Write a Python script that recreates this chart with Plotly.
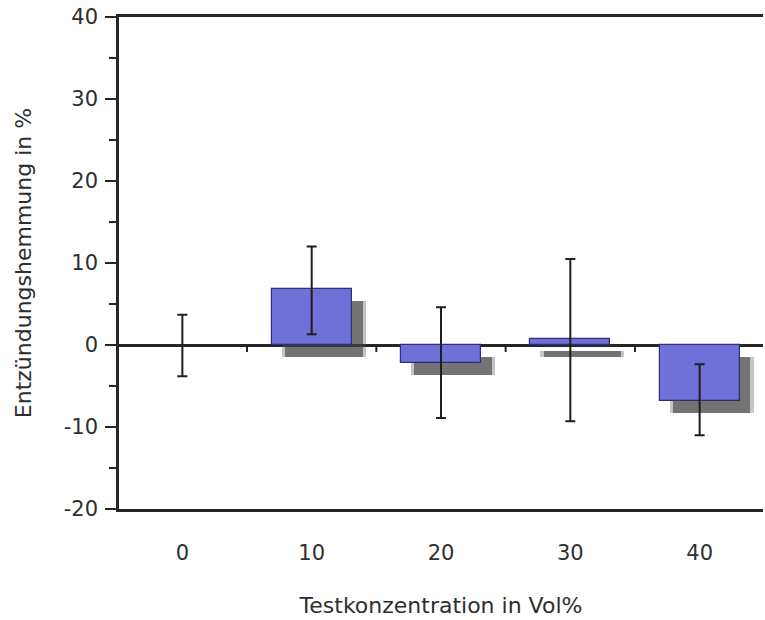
import plotly.graph_objects as go

# ---- data ----
categories = ["0", "10", "20", "30", "40"]
values = [0.0, 6.8, -2.2, 0.7, -6.8]
err_plus = [3.7, 5.2, 6.8, 9.8, 4.45]
err_minus = [3.8, 5.5, 6.7, 10.0, 4.2]
y_ticks = [-20, -10, 0, 10, 20, 30, 40]

x_title = "Testkonzentration in Vol%"
y_title = "Entzündungshemmung in %"

# ---- styling ----
FONT = "DejaVu Sans"
TXT = "#2e2e2e"
LINE = "#262626"
BAR_FILL = "#6d71d8"
BAR_EDGE = "#2d2f74"
BAR_W = 0.62
SH_DX = 0.093   # shadow offset in x-axis units (~12 px)
SH_DY = 1.46    # shadow offset in y-axis units (~12 px)

idx = list(range(len(categories)))
edge_w = [0 if v == 0 else 1.2 for v in values]

fig = go.Figure()

# soft outer shadow
fig.add_trace(go.Bar(
    x=[i + SH_DX for i in idx], y=values,
    base=[-SH_DY] * len(values), width=BAR_W + 0.03,
    marker=dict(color="rgba(90,90,90,0.35)", line=dict(width=0)),
    hoverinfo="skip", showlegend=False,
))
# inner shadow
fig.add_trace(go.Bar(
    x=[i + SH_DX for i in idx], y=values,
    base=[-SH_DY] * len(values), width=BAR_W - 0.02,
    marker=dict(color="rgba(60,60,60,0.6)", line=dict(width=0)),
    hoverinfo="skip", showlegend=False,
))
# main bars with error bars
fig.add_trace(go.Bar(
    x=idx, y=values, width=BAR_W,
    marker=dict(color=BAR_FILL, line=dict(color=BAR_EDGE, width=edge_w)),
    error_y=dict(type="data", symmetric=False, array=err_plus, arrayminus=err_minus,
                 color="#1e1e1e", thickness=2, width=5),
    showlegend=False,
))

# small tick marks on the zero line between categories
shapes = []
for i in idx[:-1]:
    b = i + 0.5
    shapes.append(dict(type="line", xref="x", yref="y", x0=b, x1=b, y0=0, y1=-0.85,
                       line=dict(color=LINE, width=2)))

fig.update_layout(
    width=765, height=620,
    margin=dict(l=119, r=2, t=17, b=111, autoexpand=False),
    paper_bgcolor="white", plot_bgcolor="white",
    barmode="overlay", bargap=0,
    font=dict(family=FONT, size=21, color=TXT),
    shapes=shapes,
    xaxis=dict(
        range=[-0.49, 4.49], tickvals=idx, ticktext=categories, automargin=False,
        showline=True, linecolor=LINE, linewidth=2.5, mirror=True,
        showgrid=False, zeroline=False, ticks="", ticklabelstandoff=23,
        tickfont=dict(family=FONT, size=21, color=TXT),
        title=dict(text=x_title, font=dict(family=FONT, size=22, color=TXT), standoff=34),
    ),
    yaxis=dict(
        range=[-20, 40], tickvals=y_ticks, ticktext=[str(t) for t in y_ticks],
        automargin=False,
        showline=True, linecolor=LINE, linewidth=2.5, mirror=False,
        showgrid=False, zeroline=True, zerolinecolor=LINE, zerolinewidth=2.5,
        ticks="outside", ticklen=11, tickwidth=2, tickcolor=LINE, ticklabelstandoff=3,
        minor=dict(dtick=5, tick0=0, ticks="outside", ticklen=7, tickwidth=2, tickcolor=LINE),
        tickfont=dict(family=FONT, size=21, color=TXT),
        title=dict(text=y_title, font=dict(family=FONT, size=22, color=TXT), standoff=27),
    ),
)

# remove the default page margin so the figure sits at the window's top-left corner
fig.write_html("out.html", config={"displayModeBar": False},
               post_script="document.body.style.margin='0';")
